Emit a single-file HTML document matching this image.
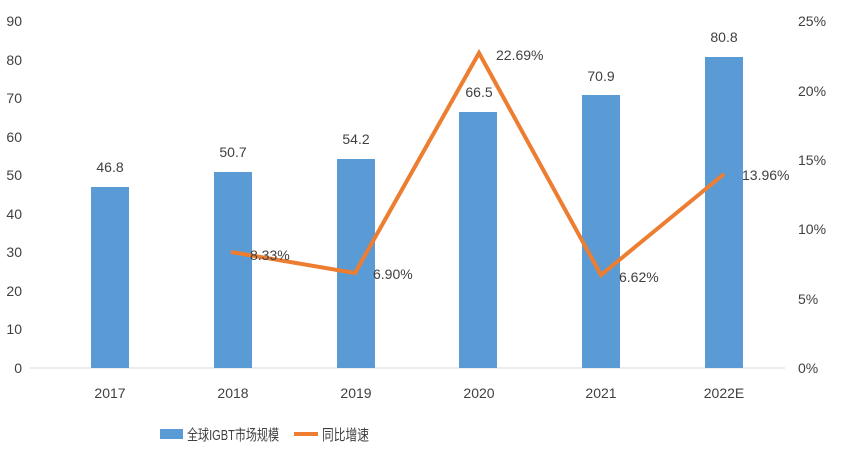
<!DOCTYPE html>
<html><head><meta charset="utf-8"><style>
body{margin:0;background:#fff;}
svg text{font-family:"Liberation Sans","Noto Sans CJK SC",sans-serif;fill:#404040;}
</style></head><body>
<svg width="847" height="463" viewBox="0 0 847 463" xmlns="http://www.w3.org/2000/svg">
<rect width="847" height="463" fill="#fff"/>
<g font-size="14" text-anchor="end">
<text x="22" y="373">0</text><text x="22" y="334">10</text><text x="22" y="296">20</text><text x="22" y="257">30</text><text x="22" y="219">40</text><text x="22" y="180">50</text><text x="22" y="142">60</text><text x="22" y="103">70</text><text x="22" y="65">80</text><text x="22" y="26">90</text>
</g>
<g font-size="14" text-anchor="start">
<text x="798" y="373">0%</text><text x="798" y="304">5%</text><text x="798" y="234">10%</text><text x="798" y="165">15%</text><text x="798" y="96">20%</text><text x="798" y="26">25%</text>
</g>
<line x1="30" y1="368" x2="785" y2="368" stroke="#d9d9d9" stroke-width="1"/>
<g fill="#5B9BD5">
<rect x="91" y="187" width="38" height="181"/>
<rect x="214" y="172" width="38" height="196"/>
<rect x="337" y="159" width="38" height="209"/>
<rect x="459" y="112" width="38" height="256"/>
<rect x="582" y="95" width="38" height="273"/>
<rect x="705" y="57" width="38" height="311"/>
</g>
<g font-size="14" text-anchor="middle">
<text x="110" y="172">46.8</text><text x="233" y="157">50.7</text><text x="356" y="144">54.2</text><text x="479" y="97">66.5</text><text x="601" y="81">70.9</text><text x="724" y="42">80.8</text>
</g>
<polyline points="231,252 355,273 479,53 601,275 724,174" fill="none" stroke="#ED7D31" stroke-width="4" stroke-linejoin="miter"/>
<g font-size="14">
<text x="250" y="260">8.33%</text><text x="373" y="279">6.90%</text><text x="496" y="60">22.69%</text><text x="619" y="282">6.62%</text><text x="742" y="180">13.96%</text>
</g>
<g font-size="14" text-anchor="middle">
<text x="110" y="398">2017</text><text x="233" y="398">2018</text><text x="356" y="398">2019</text><text x="479" y="398">2020</text><text x="601" y="398">2021</text><text x="724" y="398">2022E</text>
</g>
<rect x="160" y="429" width="23" height="10" fill="#5B9BD5"/>
<text x="187" y="440" font-size="15" textLength="92" lengthAdjust="spacingAndGlyphs">全球IGBT市场规模</text>
<line x1="294" y1="434" x2="318" y2="434" stroke="#ED7D31" stroke-width="4"/>
<text x="322" y="440" font-size="15" textLength="47" lengthAdjust="spacingAndGlyphs">同比增速</text>
</svg>
</body></html>
